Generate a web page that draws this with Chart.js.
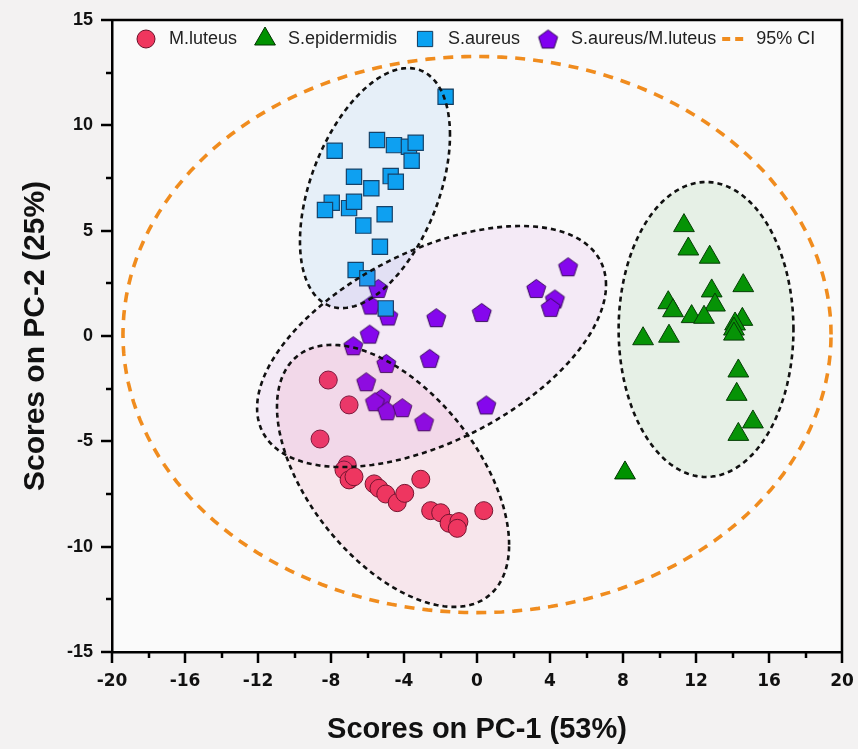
<!DOCTYPE html>
<html><head><meta charset="utf-8">
<script src="https://cdn.jsdelivr.net/npm/chart.js@4.4.1/dist/chart.umd.min.js"></script>
<style>html,body{margin:0;padding:0;background:#f3f2f2;} canvas{display:block;}</style>
</head><body><canvas id="c" width="858" height="749"></canvas>
<script>
// ---- data ----
const xTickValues = [-20,-16,-12,-8,-4,0,4,8,12,16,20];
const yTickValues = [-15,-10,-5,0,5,10,15];
const seriesNames = ['M.luteus','S.epidermidis','S.aureus','S.aureus/M.luteus'];

const luteusX = [-8.15,-7.01,-8.60,-7.11,-7.29,-7.01,-6.74,-5.64,-5.37,-5.00,-4.37,-3.96,-3.08,-2.54,-1.99,-1.53,-0.99,-1.08,0.37];
const luteusY = [-2.09,-3.27,-4.89,-6.12,-6.36,-6.83,-6.68,-7.02,-7.23,-7.50,-7.91,-7.47,-6.80,-8.29,-8.39,-8.89,-8.81,-9.13,-8.29];

const epiX = [11.34,11.58,12.75,14.59,12.86,13.04,10.48,10.74,11.76,12.44,14.54,14.14,14.08,14.08,9.10,10.52,14.32,14.23,15.12,14.32,8.11];
const epiY = [5.24,4.13,3.74,2.39,2.14,1.47,1.58,1.20,0.92,0.89,0.79,0.57,0.33,0.09,-0.13,-0.01,-1.66,-2.77,-4.08,-4.67,-6.50];

const aureusX = [-1.72,-7.80,-5.48,-4.55,-3.73,-3.36,-3.58,-6.74,-4.73,-4.45,-5.79,-7.96,-8.33,-7.01,-6.74,-6.23,-5.06,-5.32,-6.65,-6.01,-5.00];
const aureusY = [11.36,8.79,9.30,9.06,8.98,9.17,8.32,7.56,7.59,7.32,7.01,6.33,5.98,6.07,6.37,5.24,5.78,4.24,3.13,2.74,1.31];

const mixX = [4.99,3.25,4.27,4.04,0.26,-2.23,-5.41,-5.82,-4.86,-5.88,-6.78,-2.59,-4.97,-6.07,-5.24,-5.59,-4.92,-4.09,-2.90,0.51];
const mixY = [3.29,2.26,1.76,1.36,1.12,0.87,2.26,1.47,0.95,0.09,-0.46,-1.06,-1.30,-2.17,-2.96,-3.12,-3.55,-3.40,-4.07,-3.27];

// confidence ellipses: centre, horizontal half-extent, vertical offset of the rightmost point, vertical half-chord through centre
const ellipseNames = ['M.luteus','S.epidermidis','S.aureus','S.aureus/M.luteus','95% CI'];
const ellipseCX = [-4.60, 12.55, -5.59, -2.49, 0.00];
const ellipseCY = [-6.64, 0.31, 7.02, -0.50, 0.07];
const ellipseA  = [6.36, 4.79, 4.11, 9.56, 19.40];
const ellipseB  = [-3.27, 0.00, 2.52, 2.92, 0.00];
const ellipseH  = [5.29, 7.00, 5.11, 4.92, 13.20];

// ---- styles ----
const FONT = "'Liberation Sans', Arial, sans-serif";
const colors = ['#F0365E','#009200','#0AA2F2','#8000F0'];
const borders = ['#6a1028','#003300','#123a5c','#2a0050'];
const ellipseFill = ['rgba(230,60,120,0.10)','rgba(60,160,60,0.10)','rgba(60,150,235,0.10)','rgba(190,80,210,0.09)', null];

function makePentagon(r, fill, stroke){
  const c = document.createElement('canvas');
  const s = Math.ceil(2*r+3); c.width = s; c.height = s;
  const g = c.getContext('2d');
  g.beginPath();
  for(let i=0;i<5;i++){
    const a = -Math.PI/2 + i*2*Math.PI/5;
    const px = s/2 + r*Math.cos(a), py = s/2 + 1 + r*Math.sin(a);
    i ? g.lineTo(px,py) : g.moveTo(px,py);
  }
  g.closePath(); g.fillStyle = fill; g.fill();
  g.lineWidth = 1; g.strokeStyle = stroke; g.stroke();
  return c;
}
const pentagon = makePentagon(10, colors[3], borders[3]);

const zip = (xs, ys) => xs.map((x,i)=>({x, y: ys[i]}));

const bgPlugin = {
  id:'bg',
  beforeDraw(chart){
    const {ctx, chartArea:a} = chart;
    ctx.save();
    ctx.fillStyle = '#f3f2f2'; ctx.fillRect(0,0,chart.width,chart.height);
    ctx.fillStyle = '#fafafa'; ctx.fillRect(a.left,a.top,a.right-a.left,a.bottom-a.top);
    ctx.restore();
  }
};

function ellipsePath(ctx, xs, ys, i){
  ctx.beginPath();
  for(let k=0;k<=180;k++){
    const t = k/180*2*Math.PI;
    const vx = ellipseCX[i] + ellipseA[i]*Math.cos(t);
    const vy = ellipseCY[i] + ellipseB[i]*Math.cos(t) + ellipseH[i]*Math.sin(t);
    const px = xs.getPixelForValue(vx), py = ys.getPixelForValue(vy);
    k ? ctx.lineTo(px,py) : ctx.moveTo(px,py);
  }
  ctx.closePath();
}

const ellipsePlugin = {
  id:'ellipses',
  afterDatasetsDraw(chart){
    const {ctx, chartArea:a, scales:{x, y}} = chart;
    ctx.save();
    ctx.beginPath(); ctx.rect(a.left,a.top,a.right-a.left,a.bottom-a.top); ctx.clip();
    const order = [2,3,0,1];
    order.forEach(i=>{ ellipsePath(ctx,x,y,i); ctx.fillStyle = ellipseFill[i]; ctx.fill(); });
    ctx.setLineDash([5,4]); ctx.lineWidth = 2.6; ctx.strokeStyle = '#111';
    order.forEach(i=>{ ellipsePath(ctx,x,y,i); ctx.stroke(); });
    ctx.setLineDash([10,8]); ctx.lineWidth = 3.6; ctx.strokeStyle = '#F08C1E';
    ellipsePath(ctx,x,y,4); ctx.stroke();
    ctx.restore();
  }
};

const axesPlugin = {
  id:'axesTicks',
  afterDraw(chart){
    const {ctx, chartArea:a, scales:{x, y}} = chart;
    ctx.save();
    ctx.strokeStyle = '#000'; ctx.lineWidth = 2.5;
    ctx.beginPath();
    ctx.moveTo(a.left, a.top); ctx.lineTo(a.right, a.top); ctx.lineTo(a.right, a.bottom);
    ctx.stroke();
    for(let v=x.min; v<=x.max+1e-9; v+=2){
      const px = Math.round(x.getPixelForValue(v));
      const len = (Math.abs(v % 4) < 1e-9) ? 11 : 6;
      ctx.beginPath(); ctx.moveTo(px, a.bottom); ctx.lineTo(px, a.bottom+len); ctx.stroke();
    }
    for(let v=y.min; v<=y.max+1e-9; v+=2.5){
      const py = Math.round(y.getPixelForValue(v));
      const len = (Math.abs(v % 5) < 1e-9) ? 11 : 6;
      ctx.beginPath(); ctx.moveTo(a.left, py); ctx.lineTo(a.left-len, py); ctx.stroke();
    }
    ctx.restore();
  }
};

function drawMarker(ctx, style, cx, cy, r, fill, stroke){
  ctx.save();
  ctx.fillStyle = fill; ctx.strokeStyle = stroke; ctx.lineWidth = 1;
  if(style === 'circle'){ ctx.beginPath(); ctx.arc(cx,cy,r,0,2*Math.PI); ctx.fill(); ctx.stroke(); }
  else if(style === 'triangle'){
    ctx.beginPath();
    ctx.moveTo(cx, cy - r);
    ctx.lineTo(cx + r*Math.sin(2*Math.PI/3), cy - r*Math.cos(2*Math.PI/3));
    ctx.lineTo(cx + r*Math.sin(4*Math.PI/3), cy - r*Math.cos(4*Math.PI/3));
    ctx.closePath(); ctx.fill(); ctx.stroke();
  } else if(style === 'rect'){
    const s = Math.SQRT1_2*r; ctx.beginPath(); ctx.rect(cx-s, cy-s, 2*s, 2*s); ctx.fill(); ctx.stroke();
  } else if(style instanceof HTMLCanvasElement){
    ctx.drawImage(style, cx - style.width/2, cy - style.height/2);
  }
  ctx.restore();
}

const legendPlugin = {
  id:'insideLegend',
  afterDraw(chart){
    const {ctx, chartArea:a} = chart;
    ctx.save();
    ctx.font = "18px " + FONT;
    ctx.textBaseline = 'middle'; ctx.fillStyle = '#222';
    const yc = a.top + 19;
    let cx = a.left + 34, textEnd = 0;
    chart.data.datasets.forEach((ds)=>{
      drawMarker(ctx, ds.pointStyle, cx, yc, ds.pointRadius, ds.backgroundColor, ds.borderColor);
      const tx = cx + 23;
      ctx.fillText(ds.label, tx, yc);
      textEnd = tx + ctx.measureText(ds.label).width;
      cx = textEnd + 28;
    });
    ctx.strokeStyle = '#F08C1E'; ctx.lineWidth = 4; ctx.setLineDash([8,5]);
    const lx = textEnd + 6;
    ctx.beginPath(); ctx.moveTo(lx, yc); ctx.lineTo(lx+22, yc); ctx.stroke();
    ctx.fillText(ellipseNames[4], lx + 34, yc);
    ctx.restore();
  }
};

new Chart(document.getElementById('c'), {
  type:'scatter',
  data:{ datasets:[
    {label:seriesNames[0], data:zip(luteusX,luteusY), pointStyle:'circle', pointRadius:9, backgroundColor:colors[0], borderColor:borders[0], borderWidth:1},
    {label:seriesNames[1], data:zip(epiX,epiY), pointStyle:'triangle', pointRadius:12, backgroundColor:colors[1], borderColor:borders[1], borderWidth:1},
    {label:seriesNames[2], data:zip(aureusX,aureusY), pointStyle:'rect', pointRadius:10.8, backgroundColor:colors[2], borderColor:borders[2], borderWidth:1.2},
    {label:seriesNames[3], data:zip(mixX,mixY), pointStyle:pentagon, pointRadius:10, backgroundColor:colors[3], borderColor:borders[3], borderWidth:1}
  ]},
  options:{
    responsive:false, animation:false, devicePixelRatio:1,
    layout:{padding:{top:20, right:16, left:0, bottom:0}},
    plugins:{legend:{display:false}, tooltip:{enabled:false}},
    scales:{
      x:{ type:'linear', min:xTickValues[0], max:xTickValues[xTickValues.length-1],
          afterBuildTicks(s){ s.ticks = xTickValues.map(v=>({value:v})); },
          ticks:{ font:{family:"'DejaVu Sans', sans-serif", size:17, weight:'bold'}, color:'#111', padding:19, maxRotation:0, autoSkip:false },
          grid:{ display:false, drawTicks:false },
          border:{ display:true, width:2.5, color:'#000' },
          title:{ display:true, text:'Scores on PC-1 (53%)', color:'#111', font:{family:FONT, size:29, weight:'bold'}, padding:{top:0,bottom:2} },
          afterFit(s){ s.height = 97; s.paddingLeft = 0; s.paddingRight = 0; } },
      y:{ type:'linear', min:yTickValues[0], max:yTickValues[yTickValues.length-1],
          afterBuildTicks(s){ s.ticks = yTickValues.map(v=>({value:v})); },
          ticks:{ font:{family:FONT, size:18, weight:'bold'}, color:'#111', padding:19, autoSkip:false },
          grid:{ display:false, drawTicks:false },
          border:{ display:true, width:2.5, color:'#000' },
          title:{ display:true, text:'Scores on PC-2 (25%)', color:'#111', font:{family:FONT, size:30, weight:'bold'}, padding:{top:18,bottom:0} },
          afterFit(s){ s.width = 112; s.paddingTop = 0; s.paddingBottom = 0; } }
    }
  },
  plugins:[bgPlugin, ellipsePlugin, axesPlugin, legendPlugin]
});
</script>
</body></html>
